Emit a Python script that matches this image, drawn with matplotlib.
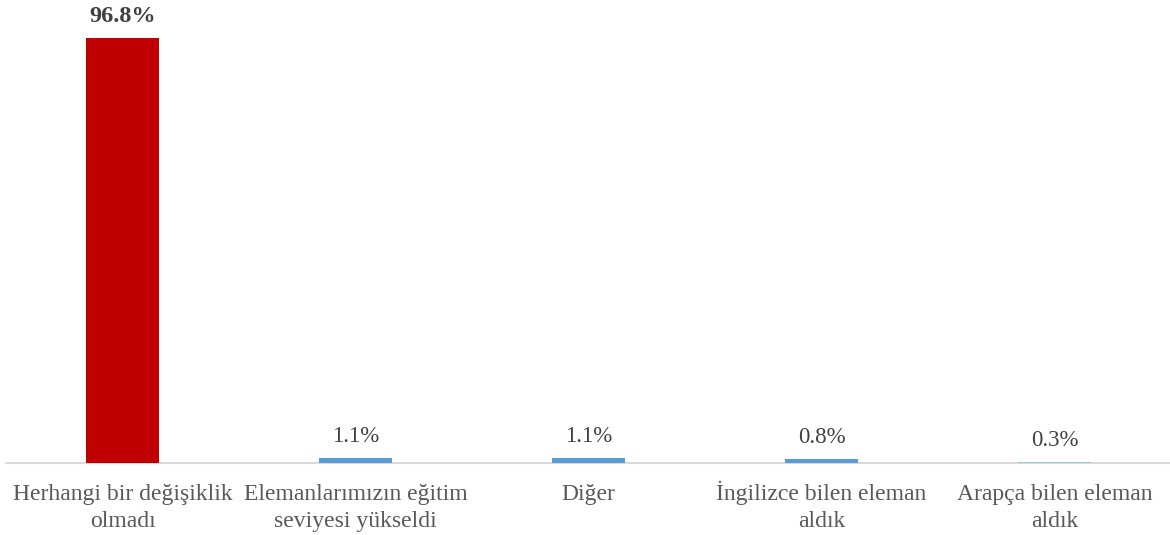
import matplotlib
matplotlib.use("Agg")
import matplotlib.pyplot as plt

categories = ["Herhangi bir değişiklik\nolmadı", "Elemanlarımızın eğitim\nseviyesi yükseldi",
              "Diğer", "İngilizce bilen eleman\naldık", "Arapça bilen eleman\naldık"]
values = [96.8, 1.1, 1.1, 0.8, 0.3]
labels = ["96.8%", "1.1%", "1.1%", "0.8%", "0.3%"]
colors = ["#C00000", "#5B9BD5", "#5B9BD5", "#5B9BD5", "#9DC3E6"]

plt.rcParams['font.family'] = ['Liberation Serif', 'DejaVu Serif']

fig = plt.figure(figsize=(11.7, 5.35), dpi=100)
ax = fig.add_axes([6/1170, 72/535, 1165/1170, 463/535])
x = list(range(len(values)))
bars = ax.bar(x, values, width=0.313, color=colors, zorder=3)
ax.set_xlim(-0.5, len(values) - 0.5)
ax.set_ylim(0, 105.45)
for i, (v, lab) in enumerate(zip(values, labels)):
    ax.annotate(lab, (i, v), xytext=(0, 16), textcoords="offset pixels",
                ha="center", va="baseline", fontsize=17.5 if i == 0 else 16.5,
                fontweight="bold" if i == 0 else "normal", color="#404040")
ax.set_xticks(x)
ax.set_xticklabels([])
for i, cat in enumerate(categories):
    for j, line in enumerate(cat.split("\n")):
        ax.annotate(line, (i, 0), xycoords=("data", "axes fraction"),
                    xytext=(0, -37 - 27 * j), textcoords="offset pixels",
                    ha="center", va="baseline", fontsize=17, color="#595959")
ax.tick_params(axis="x", length=0)
ax.set_yticks([])
for s in ["top", "right", "left"]:
    ax.spines[s].set_visible(False)
ax.spines["bottom"].set_color("#D9D9D9")
ax.spines["bottom"].set_linewidth(1.5)
fig.savefig("out.png", dpi=100)
